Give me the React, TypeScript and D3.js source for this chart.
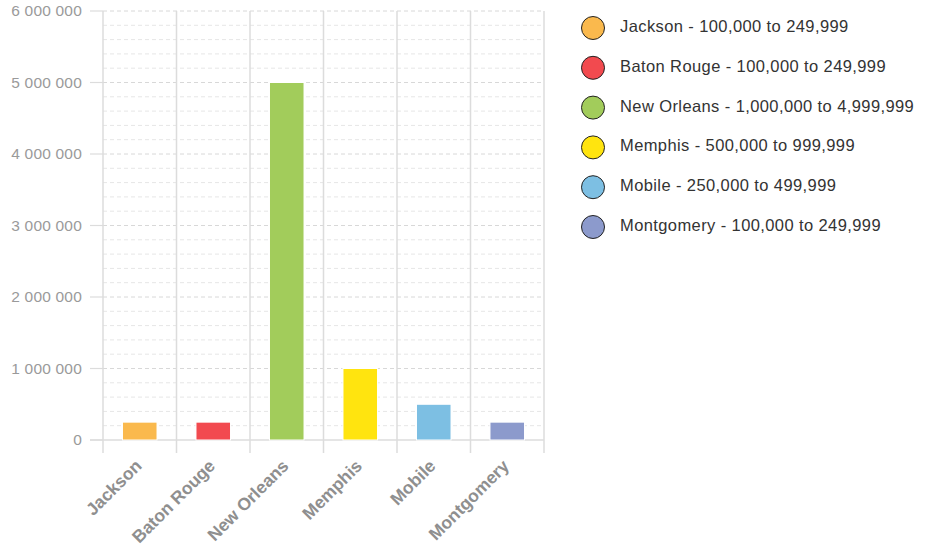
import React from "react";
import * as d3 from "d3";

const categories = ["Jackson", "Baton Rouge", "New Orleans", "Memphis", "Mobile", "Montgomery"];
const values = [249999, 249999, 4999999, 999999, 499999, 249999];
const colors = ["#fab94d", "#f24a4f", "#a2cc5b", "#ffe40f", "#7dbfe3", "#8c9acc"];
const ranges = ["100,000 to 249,999", "100,000 to 249,999", "1,000,000 to 4,999,999", "500,000 to 999,999", "250,000 to 499,999", "100,000 to 249,999"];
const yTicks = [0, 1000000, 2000000, 3000000, 4000000, 5000000, 6000000];

const W = 933, H = 546;
const left = 103, right = 544, top = 11, bottom = 440;
const FONT = "'Liberation Sans', Arial, Helvetica, sans-serif";

export default function App() {
  const x = d3.scaleBand().domain(categories).range([left, right]).paddingInner(0).paddingOuter(0);
  const y = d3.scaleLinear().domain([0, 6000000]).range([bottom, top]);
  const minor = d3.range(0, 6000001, 200000).filter((v) => v % 1000000 !== 0);
  const fmt = (v: number) => d3.format(",")(v).replace(/,/g, " ");
  const bw = x.bandwidth() * 0.47;
  const boundaries = [...categories.map((c) => x(c)!), right];

  return (
    <svg width={W} height={H} style={{ position: "absolute", left: 0, top: 0, fontFamily: FONT }}>
      <rect width={W} height={H} fill="#fff" />
      {minor.map((v) => (
        <line key={"m" + v} x1={left} x2={right} y1={y(v)} y2={y(v)} stroke="#e6e6e6" strokeWidth={1} strokeDasharray="4,3" />
      ))}
      {yTicks.filter((v) => v !== 0).map((v) => (
        <line key={"M" + v} x1={left} x2={right} y1={y(v)} y2={y(v)} stroke="#d8d8d8" strokeWidth={1} strokeDasharray="4,3" />
      ))}
      {boundaries.map((bx, i) => (
        <line key={"v" + i} x1={bx} x2={bx} y1={top} y2={bottom + 13} stroke="#dcdcdc" strokeWidth={1.5} />
      ))}
      {yTicks.map((v) => (
        <line key={"t" + v} x1={90} x2={left} y1={y(v)} y2={y(v)} stroke="#dcdcdc" strokeWidth={1.2} />
      ))}
      <line x1={90} x2={right} y1={bottom} y2={bottom} stroke="#dcdcdc" strokeWidth={1.5} />
      {yTicks.map((v) => (
        <text key={"l" + v} x={82} y={y(v)} dy="0.35em" textAnchor="end" fontSize={15.5} letterSpacing={0.2} fill="#9a9a9a">
          {fmt(v)}
        </text>
      ))}
      {categories.map((c, i) => {
        const cx = x(c)! + x.bandwidth() / 2;
        return (
          <rect key={"b" + c} x={cx - bw / 2} y={y(values[i])} width={bw} height={bottom - y(values[i])}
            fill={colors[i]} stroke="#fff" strokeWidth={1} />
        );
      })}
      {categories.map((c) => {
        const cx = x(c)! + x.bandwidth() / 2 + 3;
        const ty = 467;
        return (
          <text key={"x" + c} x={cx} y={ty} textAnchor="end" fontSize={17.5} fontWeight="bold" fill="#8f8f8f"
            transform={`rotate(-45 ${cx} ${ty})`}>
            {c}
          </text>
        );
      })}
      {categories.map((c, i) => {
        const cy = 28 + i * 39.8;
        return (
          <g key={"g" + c}>
            <circle cx={593} cy={cy} r={11.5} fill={colors[i]} stroke="#222" strokeWidth={1} />
            <text x={620} y={cy + 4} fontSize={16.5} letterSpacing={0.4} fill="#333">
              {`${c} - ${ranges[i]}`}
            </text>
          </g>
        );
      })}
    </svg>
  );
}
